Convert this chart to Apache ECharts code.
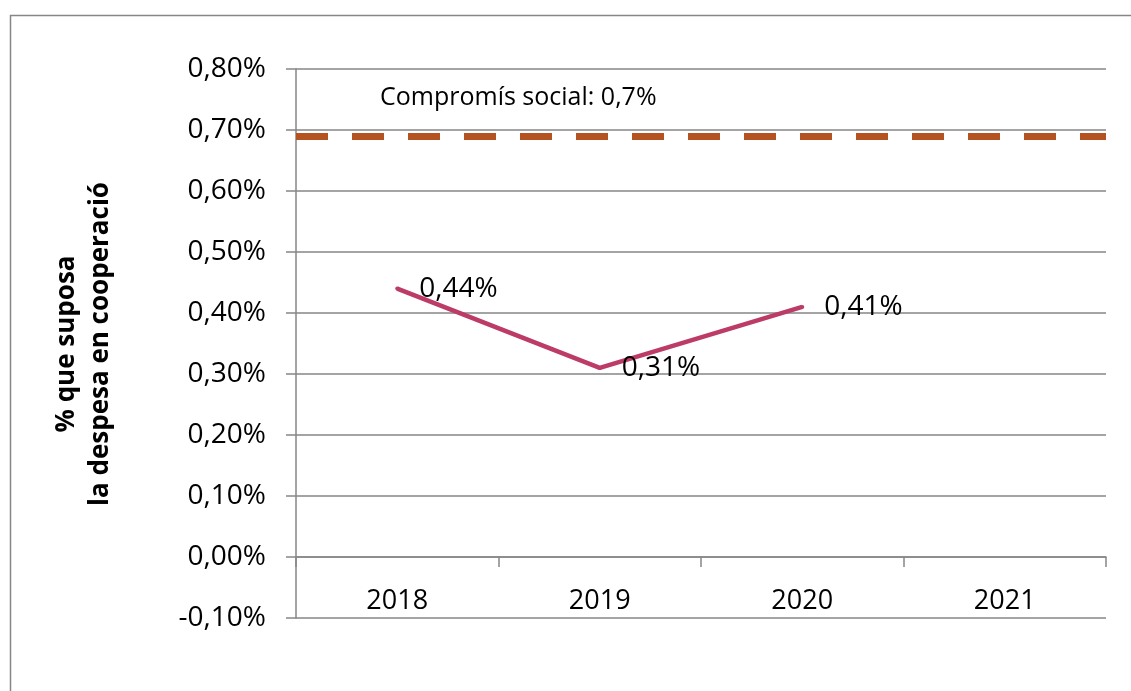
<!DOCTYPE html>
<html>
<head>
<meta charset="utf-8">
<script src="https://cdn.jsdelivr.net/npm/echarts@6/dist/echarts.min.js"></script>
<style>
html,body{margin:0;padding:0;background:#fff;}
#chart{width:1131px;height:691px;}
</style>
</head>
<body>
<div id="chart"></div>
<script>
var categories = ['2018', '2019', '2020', '2021'];
var despesaValues = [0.44, 0.31, 0.41, null];
var compromisValue = 0.69;
var compromisLabel = 'Compromís social: 0,7%';
var yAxisTitle = '% que suposa\nla despesa en cooperació';
var yMin = -0.1, yMax = 0.8, yInterval = 0.1;

function pct(v) {
  if (v === null || v === undefined || isNaN(v)) return '';
  return Number(v).toFixed(2).replace('.', ',') + '%';
}

var FONT = 'Open Sans';
var chart = echarts.init(document.getElementById('chart'));
chart.setOption({
  backgroundColor: '#ffffff',
  animation: false,
  textStyle: { fontFamily: FONT },
  grid: { left: 296, right: 25, top: 69, bottom: 73, containLabel: false },
  xAxis: {
    type: 'category',
    data: categories,
    boundaryGap: true,
    axisLine: { onZero: true, lineStyle: { color: '#868686', width: 1.5 } },
    axisTick: { show: true, length: 10, lineStyle: { color: '#868686', width: 1.5 } },
    axisLabel: { color: '#000', fontSize: 27, fontFamily: FONT, margin: -30 },
    splitLine: { show: false }
  },
  yAxis: {
    type: 'value',
    min: yMin, max: yMax, interval: yInterval,
    axisLine: { show: true, lineStyle: { color: '#868686', width: 1.5 } },
    axisTick: { show: true, length: 10, lineStyle: { color: '#868686', width: 1.5 } },
    axisLabel: { color: '#000', fontSize: 28, fontFamily: FONT, margin: 30,
      formatter: function (v) { return pct(v); } },
    splitLine: { show: true, lineStyle: { color: '#868686', width: 1.5 } }
  },
  series: [
    {
      type: 'line',
      data: despesaValues,
      symbol: 'circle',
      symbolSize: 4,
      showSymbol: true,
      showAllSymbol: true,
      lineStyle: { color: '#bc3c67', width: 4.5 },
      itemStyle: { color: '#bc3c67', borderWidth: 0 },
      label: {
        show: true, position: 'right', distance: 20,
        color: '#000', fontSize: 28, fontFamily: FONT,
        formatter: function (p) { return pct(p.value); }
      },
      markLine: {
        silent: true,
        symbol: 'none',
        label: { show: false },
        lineStyle: { color: '#b55222', width: 7, type: [32, 24] },
        data: [{ yAxis: compromisValue }]
      },
      z: 3
    }
  ],
  graphic: [
    {
      type: 'rect', left: 8, top: 13, silent: true,
      shape: { width: 1200, height: 800 },
      style: { fill: 'none', stroke: '#868686', lineWidth: 1.5 }, z: -1
    },
    {
      type: 'text', left: 380, top: 85,
      style: { text: compromisLabel, fill: '#000', font: '25px "Open Sans"' }
    },
    {
      type: 'text', x: 84, y: 344, rotation: Math.PI / 2,
      style: { text: yAxisTitle, fill: '#000', font: 'bold 26px "Open Sans"',
        align: 'center', verticalAlign: 'middle', lineHeight: 34 }
    }
  ]
});
</script>
</body>
</html>
